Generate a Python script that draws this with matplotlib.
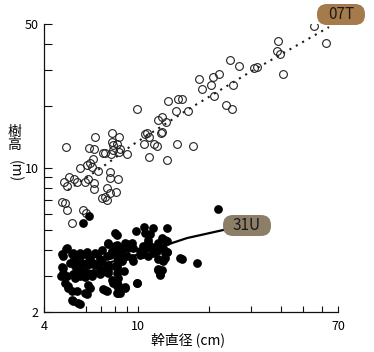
import numpy as np
import matplotlib
matplotlib.use("Agg")
import matplotlib.pyplot as plt
from matplotlib.patches import FancyBboxPatch
from matplotlib.transforms import IdentityTransform

plt.rcParams['font.family'] = ['Noto Sans CJK JP', 'DejaVu Sans']

# 07T : open circles
x_07t = [55.4, 62.3, 39.0, 38.7, 39.8, 41.0, 24.5, 26.7, 30.9, 31.8, 18.1, 18.6, 20.7, 22.0,
         20.3, 25.2, 20.9, 23.5, 24.9, 16.3, 17.1, 9.89, 13.4, 14.7, 15.3, 14.5, 12.1, 12.6,
         13.1, 12.6, 10.9, 10.7, 11.1, 10.6, 11.7, 12.0, 12.5, 11.1, 13.2, 14.6, 6.57, 7.76,
         8.30, 4.96, 6.20, 6.51, 7.76, 7.83, 8.14, 7.10, 7.24, 7.68, 8.30, 8.98, 6.45, 5.68,
         6.08, 6.26, 6.38, 6.77, 5.10, 5.36, 5.52, 5.96, 6.14, 6.51, 6.51, 4.86, 5.00, 7.60,
         7.60, 8.22, 7.39, 7.60, 8.06, 7.04, 7.24, 7.39, 4.77, 4.91, 5.00, 5.85, 6.02, 5.25,
         7.83, 8.38]
y_07t = [48.9, 40.4, 41.3, 37.0, 35.8, 28.6, 33.4, 31.3, 30.6, 30.9, 27.0, 24.2, 27.7, 28.6,
         25.3, 25.3, 22.4, 20.2, 19.3, 18.9, 12.8, 19.3, 21.1, 21.6, 21.6, 18.9, 17.1, 17.7,
         16.7, 15.0, 14.8, 14.6, 14.1, 13.1, 13.1, 12.8, 14.8, 11.3, 10.9, 13.1, 14.1, 14.8,
         14.1, 12.6, 12.5, 12.4, 13.4, 12.9, 13.1, 11.8, 11.8, 11.7, 12.0, 11.7, 11.1, 10.0,
         10.3, 10.6, 10.1, 9.67, 9.04, 8.84, 8.55, 8.55, 8.84, 8.46, 7.91, 8.55, 8.18, 9.56,
         8.94, 8.84, 8.00, 7.56, 7.65, 7.15, 7.23, 6.99, 6.84, 6.76, 6.25, 6.25, 6.05, 5.41,
         12.2, 12.4]

# 31U : filled circles
x_31u = [6.20, 5.85, 7.98, 9.80, 10.6, 11.6, 13.2, 4.96, 4.81, 4.81, 4.72, 5.25, 5.36, 5.68,
         5.96, 6.26, 6.70, 6.90, 7.39, 7.76, 7.46, 7.98, 8.22, 8.63, 8.98, 9.42, 9.51, 10.2,
         10.5, 11.0, 11.4, 12.0, 12.7, 13.0, 13.2, 5.41, 5.68, 6.08, 6.45, 6.90, 7.39, 7.98,
         8.55, 8.98, 9.51, 10.5, 11.0, 11.6, 12.1, 12.7, 5.00, 5.30, 5.68, 5.96, 6.38, 6.90,
         7.46, 8.14, 8.72, 9.89, 12.1, 12.4, 15.3, 5.05, 5.25, 5.52, 6.08, 6.26, 7.10, 7.39,
         7.83, 8.14, 8.22, 8.80, 5.30, 5.68, 21.8, 17.7, 12.6, 10.7, 11.2, 12.6, 12.1, 10.9,
         13.2, 13.0,
         4.77, 4.77, 4.81, 4.91, 5.05, 5.25, 5.57, 5.00, 5.30, 5.68, 6.08, 6.57, 7.04, 7.46,
         8.14, 7.60, 7.98, 5.15, 5.41, 5.79, 6.14, 6.57, 7.04, 7.46, 5.41, 5.79, 6.14, 6.45,
         7.04, 7.46, 8.14, 5.41, 5.96, 6.14, 7.24, 7.76, 8.14, 8.14, 5.96,
         8.14, 8.80, 9.24, 9.07, 8.55, 11.0, 10.9, 11.4, 11.8, 13.0, 13.2, 10.2, 9.42, 8.63,
         8.14, 8.14, 12.7, 12.1, 12.4, 9.89, 8.22, 8.22, 8.80, 8.38, 15.0]
y_31u = [5.85, 5.41, 4.84, 4.95, 5.17, 5.11, 5.11, 4.04, 3.74, 3.27, 2.99, 3.82, 3.62, 3.74,
         3.82, 3.66, 3.82, 3.62, 3.74, 3.95, 4.28, 4.18, 3.87, 4.09, 4.28, 4.32, 4.09, 3.95,
         4.18, 4.32, 4.09, 3.95, 4.09, 3.87, 4.42, 3.34, 3.27, 3.42, 3.46, 3.23, 3.27, 3.34,
         3.54, 3.74, 3.54, 3.82, 3.74, 3.87, 3.62, 3.54, 2.99, 3.06, 2.99, 3.09, 2.99, 3.06,
         3.09, 3.09, 3.16, 2.77, 3.23, 3.06, 3.62, 2.67, 2.53, 2.53, 2.45, 2.62, 2.59, 2.53,
         2.77, 2.67, 2.47, 2.62, 2.26, 2.19, 6.32, 3.46, 3.20, 4.84, 4.78, 4.57, 4.32, 4.14,
         3.91, 3.66,
         3.82, 3.31, 3.09, 2.77, 2.62, 2.28, 2.21, 4.09, 3.87, 3.87, 3.91, 3.87, 4.00, 4.32,
         4.73, 3.78, 3.87, 3.46, 3.50, 3.46, 3.50, 3.38, 3.50, 3.38, 3.09, 3.13, 3.09, 3.09,
         3.13, 3.20, 3.31, 2.92, 2.96, 2.70, 2.56, 2.86, 2.77, 2.47, 2.47,
         4.23, 4.32, 4.23, 4.09, 4.00, 4.47, 4.23, 4.14, 4.00, 4.47, 3.91, 3.78, 3.66, 3.66,
         3.70, 3.38, 3.58, 3.20, 3.02, 2.77, 2.92, 2.70, 2.64, 2.47, 3.66]

# fitted curves
fit_07t_x = [5.05, 7.46, 9.42, 16.1, 29.7, 64.1]
fit_07t_y = [7.82, 10.57, 12.9, 19.1, 29.2, 48.3]
fit_31u_x = [5.41, 9.51, 16.1, 24.0]
fit_31u_y = [3.13, 3.74, 4.57, 5.06]

fig = plt.figure(figsize=(3.74, 3.52), dpi=100)
ax = fig.add_axes([44/374, 40/352, 294/374, 288/352])

ax.plot(fit_07t_x, fit_07t_y, color='#1a1a1a', lw=1.5, ls=(0, (1, 2.5)))
ax.plot(x_07t, y_07t, 'o', mfc='none', mec='#222222', ms=5.6, mew=0.8)
ax.plot(x_31u, y_31u, 'o', color='black', ms=6.3, mew=0)
ax.plot(fit_31u_x, fit_31u_y, color='black', lw=1.6)

ax.set_xscale('log')
ax.set_yscale('log')
ax.set_xlim(4, 70)
ax.set_ylim(2, 50)

ax.set_xticks([4, 10, 70])
ax.set_xticklabels(['4', '10', '70'])
ax.set_xticks([6, 7, 8, 9, 20, 30, 40, 50, 60], minor=True)
ax.set_xticklabels([], minor=True)
ax.set_yticks([2, 10, 50])
ax.set_yticklabels(['2', '10', '50'])
ax.set_yticks([3, 4, 5, 6, 7, 8, 9, 20, 30, 40], minor=True)
ax.set_yticklabels([], minor=True)

for s in ['top', 'right']:
    ax.spines[s].set_visible(False)
for s in ['left', 'bottom']:
    ax.spines[s].set_linewidth(0.9)
    ax.spines[s].set_color('#111111')

ax.tick_params(axis='x', which='both', direction='in', length=4.5, width=0.8,
               labelsize=9, pad=6, color='#111111')
ax.tick_params(axis='y', which='both', direction='in', length=5.8, width=0.8,
               labelsize=9, pad=4, color='#111111')

fig.text(188/374, 1 - 340/352, '幹直径 (cm)', ha='center', va='center', fontsize=10)
fig.text(14/374, 1 - 132/352, '樹', ha='center', va='center', fontsize=10)
fig.text(14/374, 1 - 145/352, '高', ha='center', va='center', fontsize=10)
fig.text(15/374, 1 - 171/352, '(m)', ha='center', va='center', fontsize=10, rotation=-90)

# series tags
H = 352
for label, cx, cy, fc in [('07T', 341, 14.5, '#a67b4c'), ('31U', 247, 225.5, '#8d7e68')]:
    w, h = 48, 21
    box = FancyBboxPatch((cx - w/2, H - cy - h/2), w, h,
                         boxstyle='round,pad=0,rounding_size=10',
                         transform=IdentityTransform(), fc=fc, ec='none')
    fig.patches.append(box)
    fig.text(cx/374, 1 - cy/352, label, ha='center', va='center', fontsize=11, color='#1a1a1a')

fig.savefig('out.png', dpi=100)
